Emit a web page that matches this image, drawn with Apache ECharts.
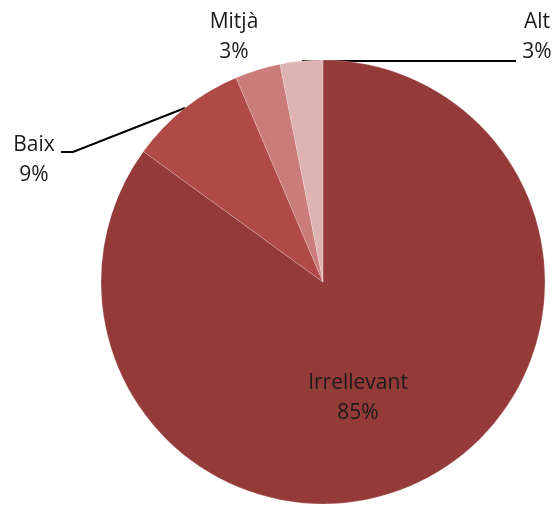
<!DOCTYPE html>
<html>
<head>
<meta charset="utf-8">
<script src="https://cdn.jsdelivr.net/npm/echarts@6/dist/echarts.min.js"></script>
<style>
  html, body { margin: 0; padding: 0; background: #fff; }
  #chart { width: 555px; height: 506px; }
</style>
</head>
<body>
<div id="chart"></div>
<script>
// dades llegides de la imatge
const categories = ['Irrellevant', 'Baix', 'Mitjà', 'Alt']
const values = [85.0, 8.6, 3.3, 3.1]
const colors = ['#943B3A', '#AF4A47', '#C97C7A', '#DDB4B3']

// posicions de les etiquetes (x, y, alineació) i línies guia
const labelPos = [
  { x: 358, y: 398, align: 'center' },
  { x: 34, y: 160, align: 'center' },
  { x: 234, y: 37, align: 'center' },
  { x: 537, y: 37, align: 'center' }
]
const leaderLines = [
  null,
  [[185, 108], [73, 152], [61, 152]],
  null,
  [[302, 61], [410, 61], [516, 61]]
]

const chart = echarts.init(document.getElementById('chart'))

const option = {
  backgroundColor: '#fff',
  animation: false,
  series: [
    {
      type: 'pie',
      center: [323, 282],
      radius: 222,
      startAngle: 90,
      clockwise: true,
      avoidLabelOverlap: false,
      percentPrecision: 0,
      itemStyle: { borderColor: 'rgba(255,255,255,0.35)', borderWidth: 0.6 },
      label: {
        show: true,
        formatter: '{b}\n{d}%',
        fontFamily: 'Open Sans',
        fontSize: 21,
        lineHeight: 30,
        color: '#1a1a1a'
      },
      labelLine: {
        show: true,
        lineStyle: { color: '#000', width: 2 }
      },
      labelLayout: function (params) {
        const p = labelPos[params.dataIndex]
        const out = { x: p.x, y: p.y, align: p.align, verticalAlign: 'middle' }
        if (leaderLines[params.dataIndex]) {
          out.labelLinePoints = leaderLines[params.dataIndex]
        }
        return out
      },
      emphasis: { disabled: true },
      data: categories.map((name, i) => ({
        name: name,
        value: values[i],
        itemStyle: { color: colors[i] },
        labelLine: { show: leaderLines[i] !== null }
      }))
    }
  ]
}

chart.setOption(option)
</script>
</body>
</html>
